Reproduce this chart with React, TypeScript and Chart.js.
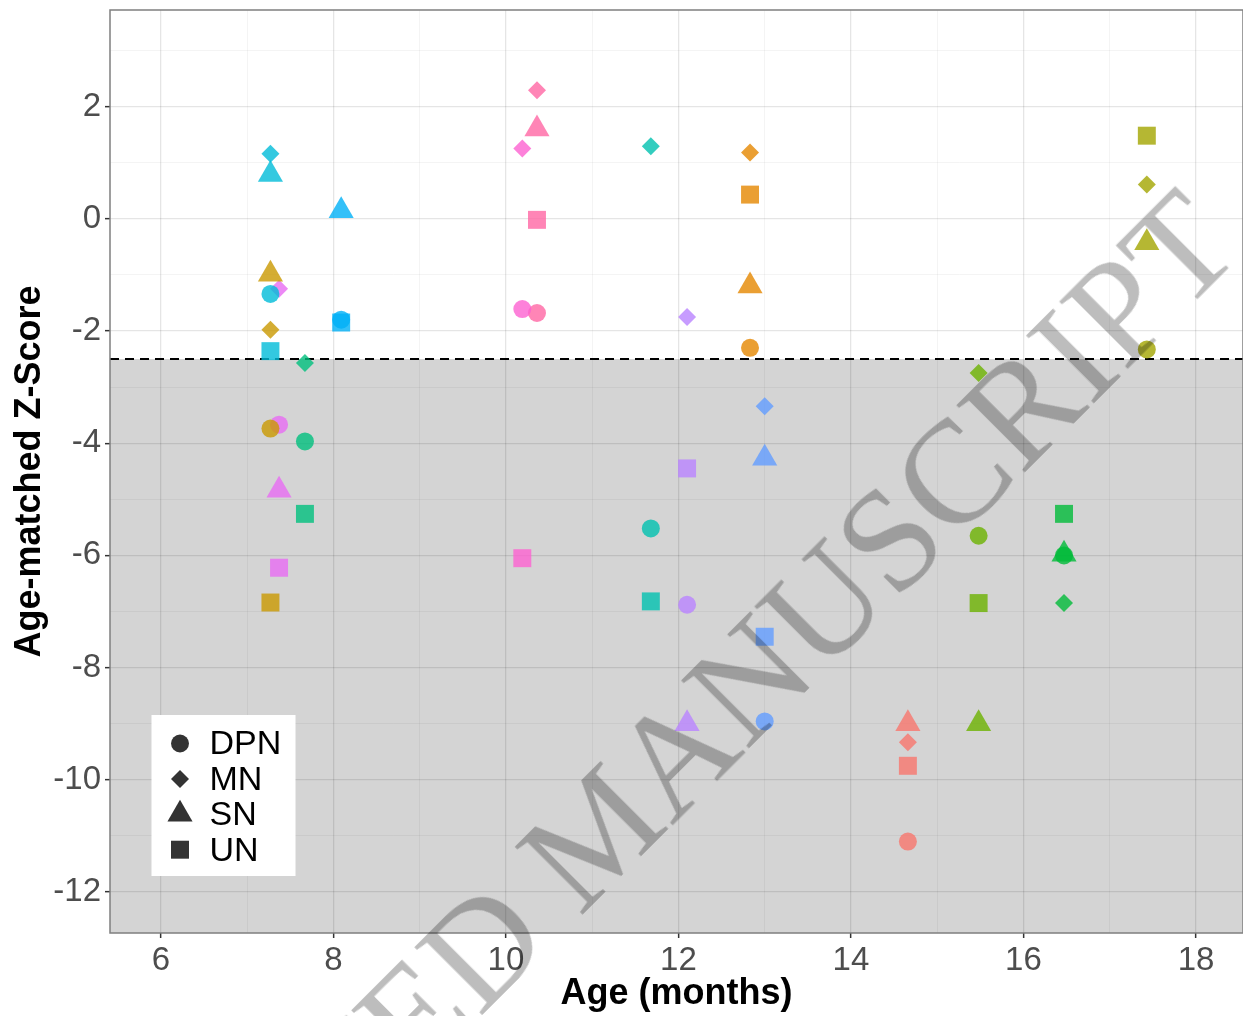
import React, { useEffect, useRef } from "react";
import { Chart, registerables } from "chart.js";

Chart.register(...registerables);

const W = 1243;
const H = 1016;
const FONT = "'Liberation Sans', Arial, Helvetica, sans-serif";

// ---- data ----
const subjects = ["S01", "S02", "S03", "S04", "S05", "S06", "S07", "S08", "S09", "S10", "S11", "S12", "S13", "S14", "S15"];
const subjectAges = [14.66, 12.83, 7.27, 17.43, 15.48, 16.47, 7.67, 11.68, 7.27, 8.09, 13.0, 12.1, 7.37, 10.19, 10.36];
const subjectColors = ["#F8766D", "#E58700", "#C99800", "#A3A500", "#6BB100", "#00BA38", "#00BF7D", "#00C0AF", "#00BCD8", "#00B0F6", "#619CFF", "#B983FF", "#E76BF3", "#FD61D1", "#FF67A4"];
const dpnScores = [-11.1, -2.3, -3.74, -2.33, -5.65, -6.0, -3.97, -5.52, -1.34, -1.8, -8.96, -6.88, -3.67, -1.61, -1.68];
const mnScores = [-9.33, 1.18, -1.98, 0.61, -2.75, -6.85, -2.57, 1.29, 1.16, null, -3.34, -1.75, -1.25, 1.25, 2.29];
const snScores = [-9.0, -1.2, -0.99, -0.43, -9.0, -5.98, null, null, 0.79, 0.14, -4.27, -9.0, -4.84, null, 1.6];
const unScores = [-9.75, 0.43, -6.84, 1.48, -6.85, -5.26, -5.26, -6.82, -2.36, -1.85, -7.45, -4.45, -6.22, -6.05, -0.02];

const neuropathyTypes = ["DPN", "MN", "SN", "UN"];
const typeShapes = ["circle", "rectRot", "triangle", "rect"];
const typeRadii = [9, 9, 14.5, 12.7];

const threshold = -2.5;
const xRange = [5.41, 18.545];
const yRange = [-12.73, 3.72];

const xTitle = "Age (months)";
const yTitle = "Age-matched Z-Score";
const watermark = "ACCEPTED MANUSCRIPT";

function withAlpha(hex: string, a: number) {
  const n = parseInt(hex.slice(1), 16);
  return `rgba(${(n >> 16) & 255},${(n >> 8) & 255},${n & 255},${a})`;
}

const isMajor = (v: number) => Math.abs(Math.round(v)) % 2 === 0;

const shadePlugin = {
  id: "shade",
  beforeDraw(chart: any) {
    const { ctx, chartArea } = chart;
    const y = chart.scales.y.getPixelForValue(threshold);
    ctx.save();
    ctx.fillStyle = "#D4D4D4";
    ctx.fillRect(chartArea.left, y, chartArea.right - chartArea.left, chartArea.bottom - y);
    ctx.restore();
  },
  beforeDatasetsDraw(chart: any) {
    const { ctx, chartArea } = chart;
    const y = chart.scales.y.getPixelForValue(threshold);
    ctx.save();
    ctx.strokeStyle = "#000";
    ctx.lineWidth = 2;
    ctx.setLineDash([9, 6]);
    ctx.beginPath();
    ctx.moveTo(chartArea.left, y);
    ctx.lineTo(chartArea.right, y);
    ctx.stroke();
    ctx.restore();
  },
  afterDatasetsDraw(chart: any) {
    const { ctx, chartArea } = chart;
    ctx.save();
    ctx.strokeStyle = "#7F7F7F";
    ctx.lineWidth = 1.5;
    ctx.strokeRect(chartArea.left, chartArea.top, chartArea.right - chartArea.left, chartArea.bottom - chartArea.top);
    ctx.restore();
  },
};

function drawShape(ctx: CanvasRenderingContext2D, shape: string, x: number, y: number, r: number) {
  ctx.beginPath();
  if (shape === "circle") {
    ctx.arc(x, y, r, 0, Math.PI * 2);
  } else if (shape === "rectRot") {
    ctx.moveTo(x - r, y);
    ctx.lineTo(x, y - r);
    ctx.lineTo(x + r, y);
    ctx.lineTo(x, y + r);
  } else if (shape === "triangle") {
    ctx.moveTo(x, y - r);
    ctx.lineTo(x + r * Math.sin((2 * Math.PI) / 3), y + r / 2);
    ctx.lineTo(x - r * Math.sin((2 * Math.PI) / 3), y + r / 2);
  } else {
    const s = Math.SQRT1_2 * r;
    ctx.rect(x - s, y - s, 2 * s, 2 * s);
  }
  ctx.closePath();
  ctx.fill();
}

const legendPlugin = {
  id: "shapeLegend",
  afterDraw(chart: any) {
    const { ctx, chartArea } = chart;
    const bx = chartArea.left + 41.5;
    const by = chartArea.top + 705;
    const bw = 144;
    const bh = 161;
    ctx.save();
    ctx.fillStyle = "#FFFFFF";
    ctx.fillRect(bx, by, bw, bh);
    neuropathyTypes.forEach((t, k) => {
      const cy = by + 28.5 + k * 35.4;
      ctx.fillStyle = "#333333";
      drawShape(ctx, typeShapes[k], bx + 28.5, cy, typeRadii[k]);
      ctx.fillStyle = "#000000";
      ctx.font = `34px ${FONT}`;
      ctx.textAlign = "left";
      ctx.textBaseline = "middle";
      ctx.fillText(t, bx + 58, cy + 1.5);
    });
    ctx.restore();
  },
};

function zeroPadding(s: any) {
  s.paddingLeft = 0;
  s.paddingRight = 0;
  s.paddingTop = 0;
  s.paddingBottom = 0;
}

export default function App() {
  const canvasRef = useRef<HTMLCanvasElement | null>(null);

  useEffect(() => {
    const canvas = canvasRef.current;
    if (!canvas) return;

    const datasets = subjects.map((s, i) => {
      const ys = [dpnScores[i], mnScores[i], snScores[i], unScores[i]];
      return {
        label: s,
        data: ys.map((y) => ({ x: subjectAges[i], y: y === null ? NaN : y })),
        pointStyle: typeShapes,
        pointRadius: typeRadii,
        pointHoverRadius: typeRadii,
        pointBackgroundColor: withAlpha(subjectColors[i], 0.8),
        pointBorderWidth: 0,
        showLine: false,
      };
    });

    const gridColor = (c: any) => (isMajor(c.tick.value) ? "rgba(0,0,0,0.10)" : "rgba(0,0,0,0.045)");
    const gridWidth = (c: any) => (isMajor(c.tick.value) ? 1.3 : 1);
    const tickColor = (c: any) => (isMajor(c.tick.value) ? "#333333" : "rgba(0,0,0,0)");

    const chart = new Chart(canvas, {
      type: "scatter",
      data: { datasets },
      plugins: [shadePlugin, legendPlugin],
      options: {
        animation: false,
        responsive: false,
        devicePixelRatio: 1,
        events: [],
        layout: { autoPadding: false, padding: { top: 10, right: 0, bottom: 0, left: 0 } },
        plugins: { legend: { display: false }, tooltip: { enabled: false } },
        scales: {
          x: {
            type: "linear",
            min: xRange[0],
            max: xRange[1],
            afterFit: (s: any) => {
              s.height = 83;
              zeroPadding(s);
            },
            border: { display: false },
            grid: { color: gridColor, lineWidth: gridWidth, drawTicks: true, tickLength: 5, tickColor, tickWidth: 1.5 },
            ticks: {
              stepSize: 1,
              includeBounds: false,
              autoSkip: false,
              maxRotation: 0,
              padding: 3,
              color: "#4D4D4D",
              font: { family: FONT, size: 33 },
              callback: (v: any) => (isMajor(Number(v)) ? String(v) : ""),
            },
            title: {
              display: true,
              text: xTitle,
              color: "#000",
              font: { family: FONT, size: 36, weight: "bold" },
              padding: { top: 0, bottom: 0 },
            },
          },
          y: {
            type: "linear",
            min: yRange[0],
            max: yRange[1],
            afterFit: (s: any) => {
              s.width = 110;
              zeroPadding(s);
            },
            border: { display: false },
            grid: { color: gridColor, lineWidth: gridWidth, drawTicks: true, tickLength: 5, tickColor, tickWidth: 1.5 },
            ticks: {
              stepSize: 1,
              includeBounds: false,
              autoSkip: false,
              padding: 4,
              color: "#4D4D4D",
              font: { family: FONT, size: 33 },
              callback: (v: any) => (isMajor(Number(v)) ? String(v) : ""),
            },
            title: {
              display: true,
              text: yTitle,
              color: "#000",
              font: { family: FONT, size: 36, weight: "bold" },
              padding: { top: 8, bottom: 0 },
            },
          },
        },
      } as any,
    });

    return () => chart.destroy();
  }, []);

  return (
    <div style={{ position: "absolute", left: 0, top: 0, width: W, height: H, overflow: "hidden", background: "#fff" }}>
      <canvas ref={canvasRef} width={W} height={H} style={{ display: "block", width: W, height: H }} />
      <div
        style={{
          position: "absolute",
          left: 598,
          top: 830,
          transform: "translate(-50%, -50%) rotate(-45deg)",
          whiteSpace: "nowrap",
          fontFamily: "'Liberation Serif', 'Times New Roman', serif",
          fontSize: 146,
          lineHeight: 1,
          color: "rgba(0,0,0,0.26)",
          pointerEvents: "none",
        }}
      >
        {watermark}
      </div>
    </div>
  );
}
